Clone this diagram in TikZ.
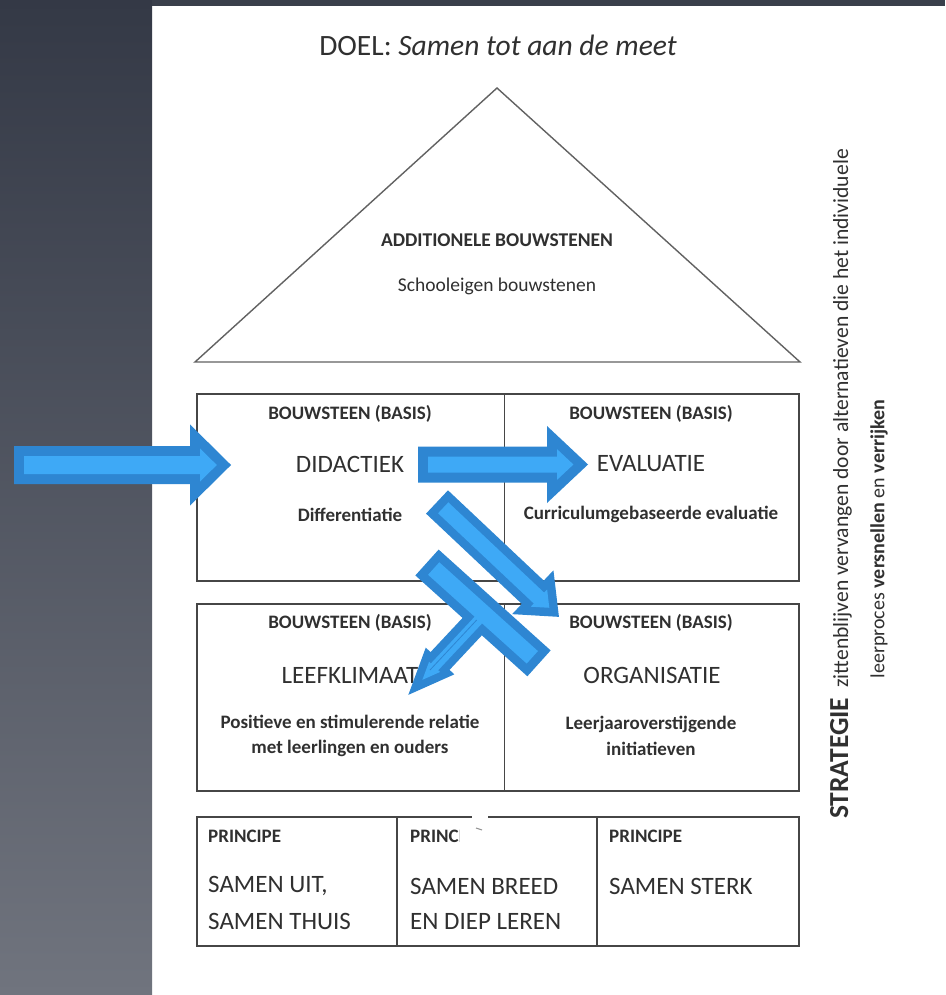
\documentclass[tikz,border=0pt]{standalone}
\usepackage{fontspec}
\setmainfont{Carlito}
\definecolor{arrowedge}{RGB}{46,134,210}
\definecolor{arrowfill}{RGB}{62,169,246}
\definecolor{txt}{RGB}{48,48,48}
\definecolor{boxline}{RGB}{70,70,70}
\definecolor{bgtop}{RGB}{52,57,70}
\definecolor{bgbot}{RGB}{112,116,126}
\newcommand{\fs}[2]{\fontsize{#1}{#2}\selectfont}
% #1 style, #2 x, #3 y, #4 angle, #5 length, #6 shaft half, #7 head half, #8 head length
\newcommand{\arrowpath}[8]{%
  \path[#1, shift={(#2,#3)}, rotate=#4]
    (0,-#6) -- ({#5-#8},-#6) -- ({#5-#8},-#7) -- (#5,0) -- ({#5-#8},#7) -- ({#5-#8},#6) -- (0,#6) -- cycle;}
\tikzset{
  cell/.style={draw=boxline, line width=1.8pt, inner sep=0pt, anchor=north west},
  t/.style={text=txt, inner sep=0pt},
  lbl/.style={t, font=\bfseries\fs{19}{23}},
  big/.style={t, font=\fs{25}{30}},
  sub/.style={t, font=\bfseries\fs{19}{23}},
  edge/.style={draw=arrowedge, line join=miter},
  inner/.style={fill=arrowfill}
}
\begin{document}
\begin{tikzpicture}[x=1pt,y=-1pt]
\useasboundingbox (0,0) rectangle (945,995);
% background
\fill[white] (0,0) rectangle (945,995);
\shade[top color=bgtop, bottom color=bgbot] (0,0) rectangle (152,995);
\fill[bgtop!90!bgbot] (152,0) rectangle (945,6);

% title
\node[t, font=\fs{29.5}{34}] (title) at (498,45) {DOEL: \textit{Samen tot aan de meet}};

% roof
\draw[draw=boxline!85, line width=1.4pt, line join=miter] (195,362) -- (497,88) -- (800,362) -- cycle;
\node[t, font=\bfseries\fs{19.5}{23}] (addl) at (497,240) {ADDITIONELE BOUWSTENEN};
\node[t, font=\fs{19.5}{23}] (schl) at (497,286) {Schooleigen bouwstenen};

% row 1
\node[cell, minimum width=307.5pt, minimum height=187pt] (didbox) at (196,393) {};
\node[cell, minimum width=294.5pt, minimum height=187pt] (evabox) at (503.5,393) {};
\node[lbl] (didl) at (350,414) {BOUWSTEEN (BASIS)};
\node[big] (didt) at (350,464) {DIDACTIEK};
\node[sub] (dids) at (350,515) {Differentiatie};
\node[lbl] (eval) at (651,414) {BOUWSTEEN (BASIS)};
\node[big] (evat) at (651,464) {EVALUATIE};
\node[sub] (evas) at (651,514) {Curriculumgebaseerde evaluatie};

% row 2
\node[cell, minimum width=307.5pt, minimum height=187pt] (leefbox) at (196,603) {};
\node[cell, minimum width=294.5pt, minimum height=187pt] (orgbox) at (503.5,603) {};
\node[lbl] (leefl) at (350,623) {BOUWSTEEN (BASIS)};
\node[big] (leeft) at (350,675) {LEEFKLIMAAT};
\node[sub] (leefs1) at (350,722) {Positieve en stimulerende relatie};
\node[sub] (leefs2) at (350,748) {met leerlingen en ouders};
\node[lbl] (orgl) at (651,623) {BOUWSTEEN (BASIS)};
\node[big] (orgt) at (652,675) {ORGANISATIE};
\node[sub] (orgs1) at (651,724) {Leerjaaroverstijgende};
\node[sub] (orgs2) at (651,749) {initiatieven};

% row 3
\node[cell, minimum width=200pt, minimum height=129pt] (p1box) at (196,816) {};
\node[cell, minimum width=200pt, minimum height=129pt] (p2box) at (396,816) {};
\node[cell, minimum width=202pt, minimum height=129pt] (p3box) at (596,816) {};
\node[lbl, anchor=west] (p1l) at (208,836) {PRINCIPE};
\node[big, anchor=west] (p1a) at (208,886) {SAMEN UIT,};
\node[big, anchor=west] (p1b) at (208,921) {SAMEN THUIS};
\node[lbl, anchor=west] (p2l) at (410,836) {PRINCIPE};
\node[big, anchor=west] (p2a) at (410,886) {SAMEN BREED};
\node[big, anchor=west] (p2b) at (410,921) {EN DIEP LEREN};
\node[lbl, anchor=west] (p3l) at (609,836) {PRINCIPE};
\node[big, anchor=west] (p3a) at (609,886) {SAMEN STERK};
% white smudge over the middle label
\fill[white] (460,822) rectangle (490,842);
\fill[white] (472,810) rectangle (488,822);
\draw[boxline!60, line width=1pt] (476,828) -- (482,830);

% strategy text
\node[t, rotate=90] (strat1) at (841,484) {{\bfseries\fs{27.5}{32}STRATEGIE}\hspace{10pt}{\fs{21.6}{26}zittenblijven vervangen door alternatieven die het individuele}};
\node[t, rotate=90, font=\fs{20}{24}] (strat2) at (879,539) {leerproces \textbf{versnellen} en \textbf{verrijken}};

% block arrows
\arrowpath{edge, line width=20pt}{24}{465}{0}{192.8}{9}{16.6}{16.8}
\arrowpath{inner}{24}{465}{0}{192.8}{9}{16.6}{16.8}
\arrowpath{edge, line width=20pt}{428}{464.5}{0}{145.4}{8}{15.4}{16.4}
\arrowpath{inner}{428}{464.5}{0}{145.4}{8}{15.4}{16.4}
\arrowpath{edge, line width=17pt}{443.2}{507.8}{-43.3}{145.8}{7.5}{11.9}{14.2}
\arrowpath{inner}{443.2}{507.8}{-43.3}{145.8}{7.5}{11.9}{14.2}
% T-shaped arrow
\path[edge, line width=18pt, shift={(427,562.5)}, rotate=-42] (9,-8.4) -- (141.7,-8.4) -- (141.7,8.4) -- (9,8.4) -- cycle;
\arrowpath{edge, line width=16pt}{484.1}{613.9}{-133.1}{90.3}{5}{7.5}{17.8}
\path[inner, shift={(427,562.5)}, rotate=-42] (9,-8.4) -- (141.7,-8.4) -- (141.7,8.4) -- (9,8.4) -- cycle;
\arrowpath{inner}{484.1}{613.9}{-133.1}{90.3}{5}{7.5}{17.8}
\coordinate (tl1) at (476.7,620);
\coordinate (tl2) at (430,670);
\draw[arrowedge, line width=0.8pt] (tl1) -- (tl2);
\end{tikzpicture}
\end{document}
